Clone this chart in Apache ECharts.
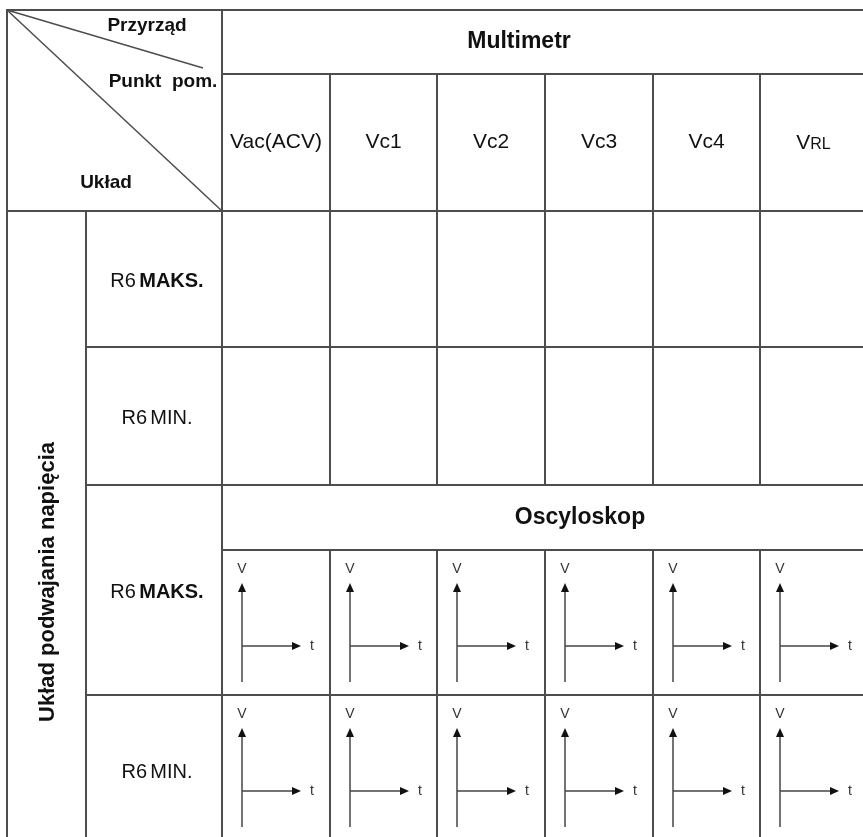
<!DOCTYPE html>
<html>
<head>
<meta charset="utf-8">
<script src="https://cdn.jsdelivr.net/npm/echarts@6/dist/echarts.min.js"></script>
<style>html,body{margin:0;padding:0;background:#fff}#c{width:863px;height:837px}</style>
</head>
<body>
<div id="c"></div>
<script>
// ---- content (text) ----
const instruments = ['Multimetr', 'Oscyloskop'];
const measurePoints = ['Vac(ACV)', 'Vc1', 'Vc2', 'Vc3', 'Vc4', 'VRL'];
const r6Settings = ['MAKS.', 'MIN.', 'MAKS.', 'MIN.'];
const r6Prefix = 'R6';
const cornerLabels = ['Przyrząd', 'Punkt pom.', 'Układ'];
const groupLabel = 'Układ podwajania napięcia';
const scopeAxisLabels = ['V', 't'];

// ---- layout (table units, mapped 1:1 by hidden value axes) ----
const COLS = [7, 86, 222, 330, 437, 545, 653, 760, 867];
const ROWS = [10, 74, 211, 347, 485, 550, 695, 845];
const LINE = '#4d4d4d';
const LW = 2;
const FONT = '"Liberation Sans", Arial, sans-serif';

// build cell list from the content arrays
const cells = [];
cells.push({ kind: 'corner', x0: COLS[0], y0: ROWS[0], x1: COLS[2], y1: ROWS[2] });
cells.push({ kind: 'instrument', text: instruments[0], x0: COLS[2], y0: ROWS[0], x1: COLS[8], y1: ROWS[1], tx: 519 });
measurePoints.forEach((p, i) => cells.push({ kind: 'point', text: p, x0: COLS[2 + i], y0: ROWS[1], x1: COLS[3 + i], y1: ROWS[2] }));
cells.push({ kind: 'group', text: groupLabel, x0: COLS[0], y0: ROWS[2], x1: COLS[1], y1: ROWS[7], ty: 582 });
const labelRows = [[ROWS[2], ROWS[3]], [ROWS[3], ROWS[4]], [ROWS[4], ROWS[6]], [ROWS[6], ROWS[7]]];
r6Settings.forEach((s, i) => cells.push({ kind: 'setting', text: s, x0: COLS[1], y0: labelRows[i][0], x1: COLS[2], y1: labelRows[i][1] }));
[[ROWS[2], ROWS[3]], [ROWS[3], ROWS[4]]].forEach(r => measurePoints.forEach((p, i) =>
  cells.push({ kind: 'empty', x0: COLS[2 + i], y0: r[0], x1: COLS[3 + i], y1: r[1] })));
cells.push({ kind: 'instrument', text: instruments[1], x0: COLS[2], y0: ROWS[4], x1: COLS[8], y1: ROWS[5], tx: 580 });
[[ROWS[5], ROWS[6]], [ROWS[6], ROWS[7]]].forEach(r => measurePoints.forEach((p, i) =>
  cells.push({ kind: 'scope', x0: COLS[2 + i], y0: r[0], x1: COLS[3 + i], y1: r[1] })));

function txt(x, y, text, size, weight, extra) {
  return Object.assign({
    type: 'text', x: x, y: y,
    style: { text: text, fill: '#111', fontSize: size, fontWeight: weight, fontFamily: FONT, align: 'center', verticalAlign: 'middle' }
  }, extra || {});
}

function renderItem(params, api) {
  const c = cells[params.dataIndex];
  const P = (x, y) => api.coord([x, y]);
  const a = P(c.x0, c.y0), b = P(c.x1, c.y1);
  const ch = [{ type: 'rect', shape: { x: a[0], y: a[1], width: b[0] - a[0], height: b[1] - a[1] }, style: { fill: 'none', stroke: LINE, lineWidth: LW } }];
  const cx = (a[0] + b[0]) / 2, cy = (a[1] + b[1]) / 2;
  if (c.kind === 'corner') {
    const e1 = P(203, 68);
    ch.push({ type: 'line', shape: { x1: a[0], y1: a[1], x2: b[0], y2: b[1] }, style: { stroke: LINE, lineWidth: 1.5 } });
    ch.push({ type: 'line', shape: { x1: a[0], y1: a[1], x2: e1[0], y2: e1[1] }, style: { stroke: LINE, lineWidth: 1.5 } });
    let p = P(147, 26); ch.push(txt(p[0], p[1], cornerLabels[0], 19, 'bold'));
    p = P(163, 82); ch.push(txt(p[0], p[1], cornerLabels[1].replace(' ', '  '), 19, 'bold'));
    p = P(106, 183); ch.push(txt(p[0], p[1], cornerLabels[2], 19, 'bold'));
  } else if (c.kind === 'instrument') {
    const p = P(c.tx, 0);
    ch.push(txt(p[0], cy, c.text, 23, 'bold'));
  } else if (c.kind === 'point') {
    const rest = c.text.slice(1);
    if (rest === rest.toUpperCase() && /^[A-Z]+$/.test(rest)) {
      ch.push({ type: 'text', x: cx, y: cy, style: {
        text: '{a|' + c.text[0] + '}{s|' + rest + '}', align: 'center', verticalAlign: 'middle',
        rich: { a: { fontSize: 21, fontFamily: FONT, fill: '#111', lineHeight: 22, verticalAlign: 'bottom' },
                s: { fontSize: 16, fontFamily: FONT, fill: '#111', lineHeight: 22, verticalAlign: 'bottom', padding: [0, 0, 1, 0] } } } });
    } else {
      ch.push(txt(cx, cy, c.text, 21, 'normal'));
    }
  } else if (c.kind === 'group') {
    const p = P(0, c.ty);
    ch.push(txt(cx + 1, p[1], c.text, 22, 'bold', { rotation: Math.PI / 2 }));
  } else if (c.kind === 'setting') {
    const bold = c.text.indexOf('MAKS') === 0;
    ch.push({ type: 'text', x: cx + 3, y: cy + 2, style: {
      text: '{r|' + r6Prefix + '} {' + (bold ? 'b' : 'r') + '|' + c.text + '}', align: 'center', verticalAlign: 'middle',
      rich: { r: { fontSize: 20, fontFamily: FONT, fill: '#111' }, b: { fontSize: 20, fontWeight: 'bold', fontFamily: FONT, fill: '#111' } } } });
  } else if (c.kind === 'scope') {
    const ax = P(c.x0 + 20, 0)[0];
    const tipY = P(0, c.y0 + 33)[1];
    const botY = P(0, c.y0 + 132)[1];
    const hY = P(0, c.y0 + 96)[1];
    const tipX = P(c.x0 + 79, 0)[0];
    const st = { stroke: '#444', lineWidth: 1.5 };
    ch.push({ type: 'line', shape: { x1: ax, y1: tipY + 6, x2: ax, y2: botY }, style: st });
    ch.push({ type: 'line', shape: { x1: ax, y1: hY, x2: tipX - 6, y2: hY }, style: st });
    ch.push({ type: 'polygon', shape: { points: [[ax, tipY], [ax - 4, tipY + 9], [ax + 4, tipY + 9]] }, style: { fill: '#111' } });
    ch.push({ type: 'polygon', shape: { points: [[tipX, hY], [tipX - 9, hY - 4], [tipX - 9, hY + 4]] }, style: { fill: '#111' } });
    const vY = P(0, c.y0 + 19)[1];
    ch.push(txt(ax, vY, scopeAxisLabels[0], 14, 'normal', {}));
    ch[ch.length - 1].style.fill = '#333';
    const tX = P(c.x0 + 90, 0)[0];
    ch.push(txt(tX, hY, scopeAxisLabels[1], 14, 'normal', {}));
    ch[ch.length - 1].style.fill = '#333';
  }
  return { type: 'group', children: ch };
}

const chart = echarts.init(document.getElementById('c'), null, { renderer: 'canvas' });
chart.setOption({
  animation: false,
  backgroundColor: '#fff',
  grid: { left: 0, right: 0, top: 0, bottom: 0 },
  xAxis: { type: 'value', min: 0, max: 863, show: false },
  yAxis: { type: 'value', min: 0, max: 837, inverse: true, show: false },
  series: [{
    type: 'custom',
    renderItem: renderItem,
    clip: false,
    silent: true,
    data: cells.map(c => [c.x0, c.y0, c.x1, c.y1])
  }]
});
</script>
</body>
</html>
